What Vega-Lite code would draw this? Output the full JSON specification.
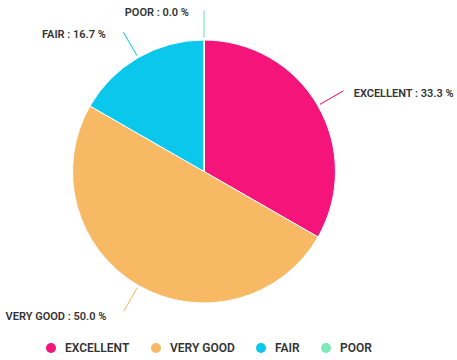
{
  "$schema": "https://vega.github.io/schema/vega-lite/v6.json",
  "width": 408,
  "height": 343,
  "padding": 0,
  "autosize": {"type": "pad"},
  "background": "white",
  "data": {
    "values": [
      {"category": "EXCELLENT", "pct": 33.3, "rank": 1, "label": "EXCELLENT : 33.3 %"},
      {"category": "VERY GOOD", "pct": 50.0, "rank": 2, "label": "VERY GOOD : 50.0 %"},
      {"category": "FAIR", "pct": 16.7, "rank": 3, "label": "FAIR : 16.7 %"},
      {"category": "POOR", "pct": 0.0, "rank": 4, "label": "POOR : 0.0 %"}
    ]
  },
  "encoding": {
    "theta": {"field": "pct", "type": "quantitative", "stack": true},
    "order": {"field": "rank", "type": "quantitative"},
    "color": {
      "field": "category",
      "type": "nominal",
      "sort": ["EXCELLENT", "VERY GOOD", "FAIR", "POOR"],
      "scale": {
        "domain": ["EXCELLENT", "VERY GOOD", "FAIR", "POOR"],
        "range": ["#f5147a", "#f8b965", "#0cc7ec", "#7ee8b9"]
      },
      "legend": {
        "title": null,
        "orient": "none",
        "legendX": 45,
        "legendY": 342,
        "direction": "horizontal",
        "symbolType": "circle",
        "symbolSize": 100,
        "symbolStrokeWidth": 0,
        "labelFont": "Roboto",
        "labelFontSize": 12,
        "labelFontWeight": 600,
        "labelColor": "#333333",
        "labelOffset": 8,
        "columnPadding": 20
      }
    }
  },
  "layer": [
    {"mark": {"type": "arc", "radius": 131.5, "stroke": "white", "strokeWidth": 1}},
    {"mark": {"type": "arc", "radius": 161, "radius2": 134, "padAngle": 3, "filled": false, "strokeWidth": 1, "strokeOpacity": 0.75}},
    {
      "mark": {
        "type": "text",
        "radius": 166,
        "font": "Roboto",
        "fontSize": 11,
        "fontWeight": 600,
        "baseline": "middle",
        "align": {"expr": "datum.category == 'EXCELLENT' ? 'left' : 'right'"},
        "dx": {"expr": "datum.category == 'EXCELLENT' ? 6 : -15"},
        "dy": {"expr": "datum.category == 'VERY GOOD' ? 2 : (datum.category == 'EXCELLENT' ? 6 : 7)"}
      },
      "encoding": {
        "text": {"field": "label", "type": "nominal"},
        "color": {"value": "#333333"}
      }
    }
  ]
}
